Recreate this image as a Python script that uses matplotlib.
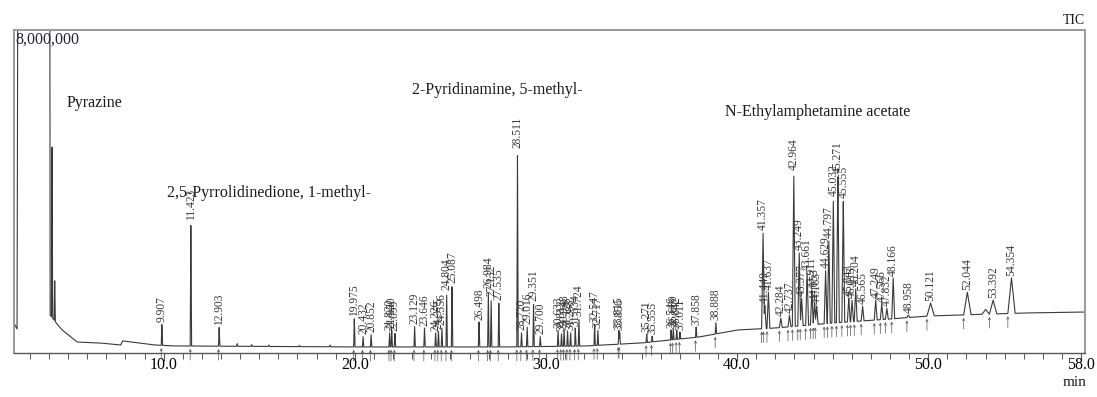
import numpy as np
import matplotlib.pyplot as plt
from matplotlib.ticker import MultipleLocator, FixedLocator

plt.rcParams['font.family'] = ['Liberation Serif', 'DejaVu Serif']

# baseline of the TIC trace (retention time in min, counts); the solvent front runs off scale
base_time = [2.17, 2.33, 2.38, 4.04, 4.06, 4.45, 4.69, 5.47, 6.67, 7.75, 7.85, 8.5, 9.5, 10.5,
             20.0, 28.0, 32.0, 35.0, 38.0, 40.0, 42.0, 45.0, 48.0, 50.0, 55.0, 58.2]
base_int = [743e3, 594e3, 12e6, 12e6, 941e3, 700e3, 570e3, 272e3, 248e3, 198e3, 300e3, 260e3,
            200e3, 175e3, 150e3, 150e3, 173e3, 248e3, 396e3, 570e3, 619e3, 743e3, 842e3,
            916e3, 991e3, 1015e3]

# integrated peaks: retention time and apex intensity
peak_rt = [9.907, 11.423, 12.903, 19.975, 20.432, 20.852, 21.820, 21.930, 22.099, 23.129,
           23.646, 24.226, 24.375, 24.556, 24.804, 25.087, 26.498, 26.984, 27.132, 27.535,
           28.511, 28.720, 29.016, 29.351, 29.700, 30.633, 30.812, 30.948, 31.128, 31.288,
           31.534, 31.724, 32.547, 32.717, 33.815, 33.856, 35.271, 35.555, 36.546, 36.660,
           36.842, 37.011, 37.858, 38.888, 41.357, 41.449, 41.637, 42.284, 42.737, 42.964,
           43.249, 43.377, 43.661, 43.911, 44.053, 44.163, 44.629, 44.797, 45.032, 45.271,
           45.555, 45.843, 46.013, 46.204, 46.565, 47.249, 47.566, 47.832, 48.166, 48.958,
           50.121, 52.044, 53.392, 54.354]
peak_int = [718e3, 3245e3, 644e3, 867e3, 421e3, 471e3, 520e3, 570e3, 495e3, 669e3,
            619e3, 495e3, 545e3, 644e3, 1511e3, 1684e3, 768e3, 1560e3, 1362e3, 1263e3,
            5028e3, 520e3, 669e3, 1238e3, 421e3, 570e3, 495e3, 619e3, 570e3, 520e3,
            619e3, 867e3, 718e3, 570e3, 570e3, 520e3, 471e3, 421e3, 570e3, 619e3,
            570e3, 520e3, 644e3, 768e3, 2997e3, 1189e3, 1511e3, 867e3, 941e3, 4483e3,
            2502e3, 1362e3, 2006e3, 1560e3, 1263e3, 1164e3, 2056e3, 2799e3, 3839e3, 4409e3,
            3789e3, 1362e3, 1313e3, 1610e3, 1164e3, 1313e3, 1214e3, 1115e3, 1858e3, 941e3,
            1238e3, 1511e3, 1313e3, 1858e3]

# small peaks that were not labelled
minor_rt = [4.16, 4.30, 13.85, 14.6, 15.5, 17.1, 18.7, 53.0]
minor_int = [5400e3, 1860e3, 230e3, 210e3, 200e3, 190e3, 200e3, 1080e3]

# compound names and where they sit (min, counts)
names = ['Pyrazine', '2,5-Pyrrolidinedione, 1-methyl-', '2-Pyridinamine, 5-methyl-',
         'N-Ethylamphetamine acetate']
name_rt = [4.9, 10.18, 23.0, 39.35]
name_int = [6.19e6, 3.96e6, 6.51e6, 5.97e6]


def half_width(rt):
    if rt < 40:
        return 0.035
    if rt < 49:
        return 0.075
    return 0.19


t = np.arange(2.17, 58.2, 0.004)
base = np.interp(t, base_time, base_int)
excess = np.zeros_like(t)
for rt, h in zip(peak_rt + minor_rt, peak_int + minor_int):
    w = 0.03 if rt < 5 else half_width(rt)
    e = h - np.interp(rt, base_time, base_int)
    excess = np.maximum(excess, e * np.clip(1 - np.abs(t - rt) / w, 0, None))
signal = base + excess

fig = plt.figure(figsize=(10.97, 3.97), dpi=100)
ax = fig.add_axes([0.01276, 0.11083, 0.97630, 0.81360])
ax.plot(t, signal, color='#3a3a3a', lw=0.8)
ax.set_xlim(2.17, 58.2)
ax.set_ylim(0, 8e6)

# retention time labels and integration start arrows
for rt, h in zip(peak_rt, peak_int):
    ax.annotate(f'{rt:.3f}', xy=(rt, h), xytext=(0, 2), textcoords='offset pixels',
                rotation=90, ha='center', va='bottom', fontsize=8.3, color='#3a3a3a')
    x0 = rt - half_width(rt)
    b = np.interp(x0, base_time, base_int)
    ax.annotate('', xy=(x0, b), xytext=(0, -14), textcoords='offset pixels',
                xycoords='data',
                arrowprops=dict(arrowstyle='->', lw=0.5, color='#555555',
                                mutation_scale=4, shrinkA=0, shrinkB=2))

for name, x, y in zip(names, name_rt, name_int):
    ax.text(x, y, name, fontsize=11.5, ha='left', va='center', color='#1a1a1a')

ax.text(0.001, 0.969, '8,000,000', transform=ax.transAxes, fontsize=11.5,
        ha='left', va='center', color='#22223a')
fig.text(0.989, 1 - 20 / 397, 'TIC', ha='right', va='center', fontsize=10, color='#1a1a1a')
fig.text(0.980, 1 - 382 / 397, 'min', ha='center', va='center', fontsize=11, color='#1a1a1a')

for side in ['left', 'top', 'right']:
    ax.spines[side].set_color('#9a9a9a')
    ax.spines[side].set_linewidth(1.4)
ax.spines['bottom'].set_color('#555555')
ax.spines['bottom'].set_linewidth(1.0)

ax.xaxis.set_major_locator(FixedLocator([10, 20, 30, 40, 50, 58]))
ax.set_xticklabels(['10.0', '20.0', '30.0', '40.0', '50.0', '58.0'])
ax.xaxis.set_minor_locator(MultipleLocator(1.0))
ax.tick_params(axis='x', which='major', length=6, width=0.8, color='#555555',
               labelsize=11.5, pad=-3, direction='out')
ax.tick_params(axis='x', which='minor', length=4, width=0.7, color='#555555', direction='out')
ax.set_yticks([])

fig.savefig('out.png', dpi=100)
